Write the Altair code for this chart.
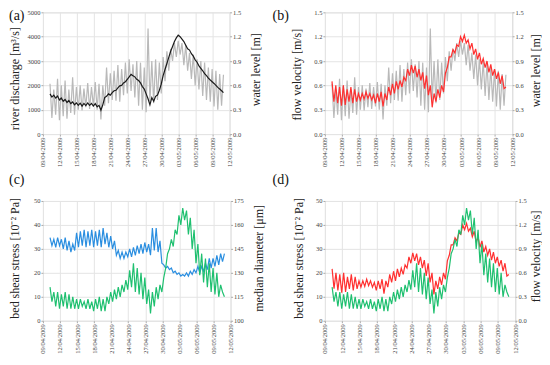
import json
import altair as alt
import pandas as pd

# ---------------- data ----------------
x_tick_days = [0, 3, 6, 9, 12, 15, 18, 21, 24, 27, 30, 33]
x_tick_labels = ["09/04/2009", "12/04/2009", "15/04/2009", "18/04/2009",
                 "21/04/2009", "24/04/2009", "27/04/2009", "30/04/2009",
                 "03/05/2009", "06/05/2009", "09/05/2009", "12/05/2009"]

start_day = 1.25        # days after 09/04/2009 00:00
step_day = 1.0 / 3.0    # 8-hourly samples (3 per day)

discharge = [
    1650, 1520, 1600, 1480, 1560, 1400, 1480, 1350, 1420, 1300, 1380, 1250,
    1320, 1200, 1280, 1180, 1270, 1150, 1260, 1170, 1280, 1180, 1260, 1150,
    1250, 1120, 1180, 980, 1200, 1500, 1550, 1650, 1600, 1700, 1780, 1800,
    1900, 1980, 2000, 2100, 2150, 2250, 2350, 2450, 2400, 2350, 2250, 2200,
    2100, 1950, 1850, 1650, 1450, 1200, 1500, 1350, 1550, 1600, 1800, 2050,
    2400, 2650, 2900, 3150, 3400, 3600, 3800, 3950, 4060, 4000, 3900, 3800,
    3650, 3500, 3450, 3300, 3200, 3050, 2950, 2800, 2700, 2600, 2480, 2400,
    2300, 2220, 2150, 2080, 2000, 1920, 1850, 1780, 1700,
]
water_level = [
    0.62, 0.20, 0.55, 0.24, 0.68, 0.17, 0.60, 0.22, 0.66, 0.19, 0.55, 0.26,
    0.70, 0.24, 0.58, 0.30, 0.60, 0.29, 0.56, 0.33, 0.63, 0.31, 0.58, 0.34,
    0.64, 0.30, 0.62, 0.18, 0.60, 0.35, 0.82, 0.38, 0.75, 0.42, 0.78, 0.41,
    0.85, 0.40, 0.80, 0.48, 0.88, 0.50, 0.92, 0.53, 0.86, 0.45, 0.90, 0.35,
    0.88, 0.30, 0.82, 0.27, 1.30, 0.40, 0.90, 0.38, 0.92, 0.42, 0.88, 0.50,
    0.95, 0.65, 1.02, 0.78, 1.05, 0.90, 1.12, 0.95, 1.15, 0.98, 1.12, 0.85,
    1.10, 0.78, 1.00, 0.68, 0.98, 0.60, 0.92, 0.55, 0.90, 0.47, 0.88, 0.42,
    0.82, 0.40, 0.80, 0.34, 0.78, 0.30, 0.74, 0.35, 0.73,
]
velocity = [
    0.65, 0.40, 0.60, 0.38, 0.58, 0.35, 0.60, 0.36, 0.55, 0.40, 0.58, 0.38,
    0.55, 0.40, 0.50, 0.42, 0.50, 0.43, 0.52, 0.44, 0.50, 0.42, 0.48, 0.38,
    0.50, 0.40, 0.52, 0.34, 0.50, 0.42, 0.58, 0.48, 0.62, 0.50, 0.65, 0.55,
    0.66, 0.58, 0.70, 0.66, 0.80, 0.72, 0.85, 0.75, 0.84, 0.70, 0.80, 0.66,
    0.76, 0.56, 0.72, 0.48, 0.60, 0.33, 0.50, 0.40, 0.55, 0.45, 0.60, 0.52,
    0.75, 0.82, 0.95, 0.95, 1.04, 1.00, 1.10, 1.08, 1.20, 1.14, 1.22, 1.12,
    1.16, 1.05, 1.12, 0.98, 1.05, 0.92, 1.00, 0.86, 0.93, 0.82, 0.90, 0.76,
    0.86, 0.72, 0.80, 0.68, 0.76, 0.62, 0.72, 0.56, 0.58,
]
shear_stress = [
    14, 8, 12, 6, 12, 5, 11, 6, 12, 5, 11, 5,
    10, 5, 9, 5, 9, 6, 8, 5, 9, 5, 8, 4,
    9, 5, 10, 4, 9, 4, 10, 7, 12, 8, 13, 9,
    14, 10, 15, 12, 17, 13, 21, 14, 24, 12, 22, 11,
    20, 9, 18, 7, 13, 3, 12, 6, 14, 9, 15, 12,
    18, 22, 28, 30, 34, 31, 38, 36, 44, 40, 47, 42,
    46, 36, 43, 30, 38, 24, 32, 19, 28, 16, 26, 14,
    24, 12, 22, 11, 20, 10, 15, 12, 10,
]
median_diameter = [
    152, 147, 151, 146, 152, 147, 151, 145, 152, 144, 150, 143,
    148, 144, 155, 146, 156, 147, 157, 146, 156, 147, 157, 146,
    156, 147, 157, 146, 158, 148, 155, 146, 153, 145, 150, 141,
    144, 139, 143, 139, 143, 140, 145, 140, 146, 141, 147, 142,
    148, 142, 149, 143, 148, 141, 158, 144, 158, 143, 150, 136,
    135, 133, 134, 132, 133, 130, 131, 129, 130, 128, 129, 128,
    130, 128, 131, 129, 132, 130, 134, 130, 134, 131, 136, 132,
    139, 133, 139, 134, 141, 135, 142, 137, 142,
]

df = pd.DataFrame({
    "t": [start_day + step_day * i for i in range(len(discharge))],
    "Q": discharge,
    "WL": water_level,
    "V": velocity,
    "S": shear_stress,
    "D": median_diameter,
})

# ---------------- styling ----------------
FONT = "Liberation Serif"
GRID = "#e4e4e4"
GRAY = "#b9b9b9"
BLACK = "#1a1a1a"
RED = "#ff3030"
GREEN = "#1fc070"
BLUE = "#2a8ee0"
TICK_FS = 6.5
TITLE_FS = 12

label_expr = json.dumps(x_tick_labels) + "[round(datum.value / 3)]"

x_enc = alt.X(
    "t:Q",
    scale=alt.Scale(domain=[0, 33], nice=False, zero=False),
    axis=alt.Axis(values=x_tick_days, labelExpr=label_expr, labelAngle=270,
                  labelFont=FONT, labelFontSize=TICK_FS, labelColor="#444",
                  labelPadding=1, tickSize=2, tickColor="#aaa", domain=False,
                  grid=True, gridColor=GRID, title=None, labelFlush=False,
                  labelOverlap=False),
)


def y_axis(orient, title, values, fmt, title_x, title_dy, H):
    return alt.Axis(
        orient=orient, title=title, values=values, format=fmt,
        titleFont=FONT, titleFontSize=TITLE_FS, titleFontWeight="normal",
        titleColor="#222", titleAngle=270, titleBaseline="middle",
        titleAlign="center", titleX=title_x, titleY=H / 2 + title_dy,
        labelFont=FONT, labelFontSize=TICK_FS, labelColor="#444",
        labelPadding=1, tickSize=2, tickColor="#aaa", domain=False,
        labelFlush=False, grid=(orient == "left"), gridColor=GRID,
    )


def panel(letter, lx, ly, W, H, under, over):
    layers = []
    for (field, color, title, domain, values, fmt, orient, tx, tdy) in (under, over):
        layers.append(
            alt.Chart(df).mark_line(color=color, strokeWidth=1.2).encode(
                x=x_enc,
                y=alt.Y(f"{field}:Q",
                        scale=alt.Scale(domain=domain, nice=False, zero=False),
                        axis=y_axis(orient, title, values, fmt, tx, tdy, H)),
            )
        )
    lab = alt.Chart(pd.DataFrame({"lab": [letter]})).mark_text(
        font=FONT, fontSize=14, align="left", baseline="top", color="#111"
    ).encode(text="lab:N", x=alt.value(lx), y=alt.value(ly))
    layers.append(lab)
    return alt.layer(*layers).resolve_scale(y="independent").properties(
        width=W, height=H)


Q_vals = [0, 1000, 2000, 3000, 4000, 5000]
V_vals = [0, 0.3, 0.6, 0.9, 1.2, 1.5]
S_vals = [0, 10, 20, 30, 40, 50]
D_vals = [100, 115, 130, 145, 160, 175]

pa = panel("(a)", -34, -3, 187, 122,
           ("WL", GRAY, "water level [m]", [0, 1.5], V_vals, ".1f", "right", 26, -4),
           ("Q", BLACK, "river discharge [m³/s]", [0, 5000], Q_vals, "d", "left", -28, 5))
pb = panel("(b)", -52.5, -3, 187.5, 122,
           ("WL", GRAY, "water level [m]", [0, 1.5], V_vals, ".1f", "right", 23, -3),
           ("V", RED, "flow velocity [m/s]", [0, 1.5], V_vals, ".1f", "left", -28.5, 1))
pc = panel("(c)", -34, -28, 188, 120,
           ("D", BLUE, "median diameter [μm]", [100, 175], D_vals, "d", "right", 28, -3),
           ("S", GREEN, "bed shear stress [10⁻² Pa]", [0, 50], S_vals, "d", "left", -28, -3))
pd_ = panel("(d)", -52.5, -28, 190.5, 120,
            ("V", RED, "flow velocity [m/s]", [0, 1.5], V_vals, ".1f", "right", 20, -5),
            ("S", GREEN, "bed shear stress [10⁻² Pa]", [0, 50], S_vals, "d", "left", -26, -3))

chart = alt.concat(
    pa, pb, pc, pd_, columns=2, bounds="flush", align="each",
    spacing={"row": 67, "column": 94.5},
).properties(padding=0).configure_view(
    stroke="#a0a0a0", strokeWidth=1.5
).configure(background="white")

chart.save("out.html", embed_options={"renderer": "svg", "actions": False})
